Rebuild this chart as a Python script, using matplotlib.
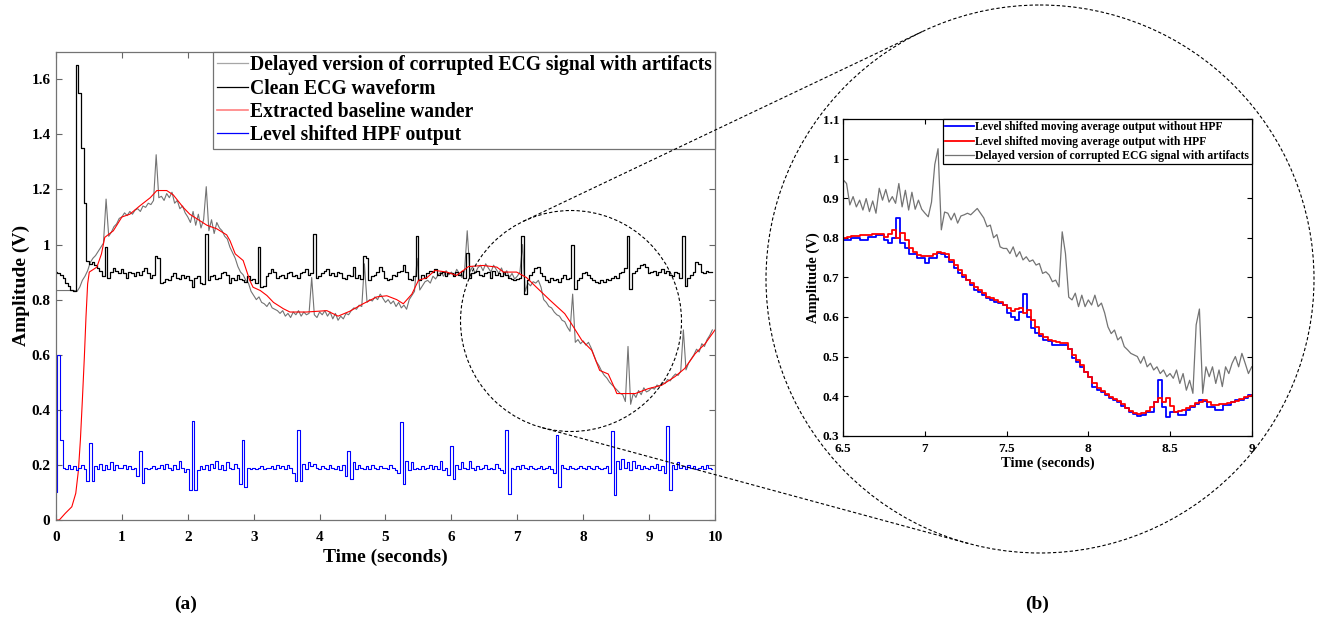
import numpy as np
import matplotlib
matplotlib.use('Agg')
import matplotlib.pyplot as plt
from matplotlib.ticker import FuncFormatter
from matplotlib.patches import Circle
from matplotlib.lines import Line2D

plt.rcParams['font.family'] = ['Liberation Serif', 'DejaVu Serif']
plt.rcParams['font.weight'] = 'bold'
plt.rcParams['mathtext.default'] = 'bf'

# ---------------- Panel (a): samples every 0.04 s, 0 .. 9.96 s ----------------
DT_A = 0.04
grey_a = [
    0.833,0.833,0.833,0.833,0.833,0.833,0.833,0.833,0.830,0.845,0.870,0.885,0.905,0.935,0.950,0.960,0.975,0.990,1.005,1.165,1.030,1.045,1.065,1.075,1.095,
    1.100,1.115,1.105,1.120,1.110,1.125,1.130,1.120,1.140,1.135,1.150,1.145,1.160,1.326,1.170,1.175,1.160,1.185,1.170,1.190,1.150,1.160,1.130,1.140,1.115,
    1.100,1.080,1.120,1.070,1.110,1.060,1.090,1.210,1.050,1.090,1.040,1.080,1.060,1.050,1.030,1.020,0.990,0.970,0.950,0.920,0.900,0.890,0.870,0.860,0.830,
    0.815,0.800,0.810,0.790,0.785,0.775,0.790,0.770,0.765,0.760,0.750,0.760,0.740,0.750,0.735,0.755,0.745,0.760,0.740,0.755,0.745,0.750,0.880,0.745,0.735,
    0.755,0.745,0.760,0.740,0.755,0.730,0.750,0.725,0.740,0.730,0.750,0.745,0.760,0.770,0.765,0.780,0.775,0.930,0.790,0.800,0.795,0.810,0.800,0.820,0.805,
    0.790,0.800,0.785,0.795,0.775,0.790,0.770,0.780,0.765,0.800,0.815,0.830,0.950,0.835,0.850,0.865,0.870,0.860,0.885,0.875,0.890,0.900,0.885,0.905,0.890,
    0.900,0.885,0.910,0.895,0.880,0.905,1.050,0.900,0.920,0.895,0.915,0.925,0.905,0.930,0.915,0.900,0.925,0.910,0.895,0.915,0.890,0.905,0.880,0.895,0.875,
    0.885,0.900,1.000,0.830,0.860,0.850,0.865,0.860,0.870,0.845,0.800,0.790,0.775,0.770,0.755,0.745,0.740,0.725,0.720,0.700,0.685,0.820,0.645,0.655,0.640,
    0.650,0.635,0.645,0.625,0.600,0.575,0.560,0.540,0.525,0.515,0.500,0.490,0.480,0.470,0.460,0.455,0.430,0.630,0.420,0.460,0.445,0.470,0.455,0.480,0.465,
    0.470,0.480,0.475,0.490,0.485,0.500,0.495,0.510,0.505,0.520,0.530,0.525,0.540,0.690,0.545,0.570,0.585,0.600,0.620,0.610,0.640,0.630,0.655,0.670,0.690,
]
black_a = [
    0.900,0.898,0.890,0.878,0.862,0.848,0.835,0.830,1.650,1.550,1.350,1.150,0.940,0.930,0.935,0.925,0.915,0.905,0.885,0.990,0.880,0.900,0.915,0.905,0.895,
    0.910,0.895,0.880,0.900,0.895,0.885,0.900,0.890,0.905,0.915,0.895,0.880,0.890,0.960,0.950,0.860,0.865,0.875,0.870,0.885,0.895,0.880,0.875,0.890,0.880,
    0.885,0.870,0.845,0.880,0.885,0.860,0.855,1.040,0.870,0.885,0.890,0.875,0.880,0.895,0.900,0.890,0.860,0.880,0.870,0.890,0.875,0.870,0.865,0.885,0.870,
    0.875,0.860,0.990,0.845,0.850,0.885,0.895,0.910,0.900,0.880,0.885,0.890,0.880,0.895,0.900,0.885,0.890,0.880,0.895,0.900,0.910,0.890,0.895,1.040,0.880,
    0.885,0.895,0.905,0.910,0.890,0.895,0.885,0.900,0.895,0.880,0.875,0.890,0.885,0.920,0.880,0.890,0.875,0.960,0.950,0.870,0.885,0.890,0.900,0.920,0.905,
    0.880,0.870,0.875,0.890,0.885,0.900,0.905,0.925,0.900,0.875,0.870,0.885,1.030,0.870,0.890,0.880,0.895,0.905,0.900,0.910,0.890,0.895,0.900,0.885,0.895,
    0.895,0.885,0.900,0.890,0.905,0.880,0.970,0.880,0.895,0.900,0.905,0.890,0.885,0.895,0.900,0.880,0.905,0.890,0.895,0.885,0.900,0.890,0.880,0.875,0.870,
    0.875,0.880,1.030,0.820,0.870,0.890,0.900,0.915,0.920,0.895,0.885,0.870,0.865,0.880,0.870,0.875,0.865,0.880,0.890,0.875,0.880,1.000,0.840,0.870,0.880,
    0.895,0.900,0.890,0.880,0.870,0.865,0.860,0.870,0.865,0.875,0.870,0.880,0.885,0.880,0.895,0.900,0.915,1.030,0.840,0.895,0.905,0.915,0.925,0.930,0.920,
    0.895,0.900,0.905,0.890,0.900,0.910,0.895,0.905,0.890,0.885,0.900,0.895,0.880,1.030,0.850,0.880,0.890,0.900,0.935,0.930,0.900,0.895,0.905,0.900,0.900,
]
blue_a = [
    0.100,0.600,0.290,0.190,0.185,0.200,0.185,0.195,0.180,0.190,0.200,0.185,0.140,0.280,0.140,0.195,0.185,0.205,0.180,0.200,0.185,0.210,0.180,0.200,0.190,
    0.190,0.200,0.185,0.195,0.185,0.190,0.160,0.250,0.135,0.190,0.185,0.190,0.195,0.185,0.190,0.200,0.185,0.205,0.190,0.180,0.200,0.185,0.215,0.190,0.175,
    0.185,0.110,0.360,0.110,0.180,0.195,0.185,0.200,0.180,0.205,0.190,0.215,0.185,0.200,0.180,0.210,0.190,0.185,0.205,0.190,0.130,0.290,0.120,0.190,0.185,
    0.190,0.185,0.190,0.195,0.185,0.190,0.190,0.195,0.185,0.200,0.190,0.195,0.185,0.200,0.190,0.170,0.140,0.325,0.140,0.205,0.185,0.210,0.195,0.205,0.190,
    0.185,0.195,0.190,0.185,0.200,0.190,0.185,0.195,0.180,0.200,0.160,0.250,0.150,0.210,0.185,0.200,0.190,0.185,0.195,0.185,0.200,0.190,0.185,0.195,0.190,
    0.190,0.185,0.200,0.190,0.180,0.170,0.355,0.130,0.215,0.180,0.210,0.185,0.190,0.185,0.195,0.185,0.190,0.200,0.185,0.195,0.185,0.215,0.180,0.190,0.165,
    0.270,0.150,0.200,0.185,0.210,0.190,0.185,0.215,0.190,0.180,0.195,0.185,0.190,0.200,0.185,0.190,0.185,0.205,0.190,0.180,0.170,0.326,0.094,0.190,0.185,
    0.195,0.185,0.200,0.190,0.185,0.195,0.190,0.185,0.190,0.195,0.185,0.190,0.195,0.185,0.170,0.310,0.120,0.200,0.190,0.185,0.195,0.190,0.185,0.190,0.195,
    0.190,0.185,0.195,0.190,0.185,0.195,0.190,0.185,0.190,0.195,0.170,0.324,0.090,0.215,0.185,0.220,0.190,0.210,0.180,0.215,0.190,0.200,0.185,0.195,0.190,
    0.185,0.195,0.190,0.205,0.180,0.195,0.170,0.340,0.109,0.200,0.185,0.210,0.190,0.195,0.185,0.200,0.190,0.195,0.185,0.190,0.195,0.185,0.200,0.190,0.185,
]
# extracted baseline wander: points (time s, volts)
red_t = [0.0,0.05,0.14,0.24,0.30,0.34,0.37,0.40,0.43,0.455,0.48,0.505,0.62,0.69,0.74,0.87,1.0,1.12,1.27,1.43,
         1.53,1.68,1.78,1.93,2.03,2.18,2.29,2.44,2.59,2.64,2.72,2.84,2.94,2.99,3.10,3.20,3.30,3.45,3.55,3.80,
         4.11,4.28,4.46,4.66,4.87,5.02,5.17,5.27,5.40,5.50,5.63,5.75,5.93,6.08,6.26,6.48,6.69,6.79,6.99,7.14,
         7.29,7.50,7.72,7.82,7.98,8.13,8.25,8.38,8.48,8.51,8.79,8.99,9.19,9.39,9.54,9.70,9.85,10.0]
red_v = [0.0,0.0,0.024,0.048,0.097,0.18,0.29,0.435,0.59,0.737,0.857,0.90,0.918,0.966,1.026,1.05,1.10,1.11,1.14,1.17,
         1.196,1.196,1.18,1.135,1.11,1.087,1.07,1.057,1.035,1.014,0.966,0.942,0.87,0.845,0.833,0.815,0.79,0.767,0.755,0.755,
         0.76,0.74,0.758,0.785,0.81,0.814,0.80,0.785,0.82,0.87,0.88,0.906,0.90,0.888,0.92,0.924,0.918,0.90,0.90,0.88,
         0.845,0.797,0.749,0.713,0.652,0.616,0.543,0.53,0.477,0.459,0.459,0.477,0.489,0.52,0.55,0.604,0.64,0.69]

# ---------------- Panel (b): 6.5 .. 9 s ----------------
T0_B = 6.5
DT_B = 0.025          # step width of moving-average outputs
blue_b = [
    0.794,0.794,0.800,0.800,0.795,0.795,0.803,0.803,0.807,0.807,
    0.794,0.786,0.799,0.851,0.786,0.773,0.760,0.760,0.748,0.748,
    0.735,0.748,0.748,0.762,0.760,0.752,0.740,0.723,0.710,0.702,
    0.693,0.680,0.668,0.662,0.655,0.648,0.644,0.638,0.634,0.630,
    0.609,0.600,0.592,0.613,0.657,0.600,0.571,0.560,0.552,0.543,
    0.540,0.530,0.530,0.530,0.530,0.520,0.496,0.485,0.474,0.462,
    0.449,0.424,0.415,0.410,0.403,0.394,0.390,0.386,0.375,0.370,
    0.361,0.355,0.350,0.352,0.360,0.361,0.386,0.441,0.373,0.348,
    0.361,0.361,0.352,0.352,0.364,0.373,0.380,0.391,0.388,0.373,
    0.373,0.366,0.366,0.377,0.377,0.386,0.390,0.390,0.395,0.403,
    0.403]
red_b = [
    0.800,0.803,0.805,0.805,0.806,0.806,0.808,0.810,0.809,0.810,
    0.803,0.809,0.820,0.800,0.813,0.794,0.773,0.765,0.757,0.755,
    0.755,0.755,0.758,0.765,0.762,0.758,0.744,0.731,0.718,0.706,
    0.693,0.685,0.675,0.668,0.660,0.651,0.647,0.644,0.638,0.630,
    0.622,0.615,0.619,0.622,0.609,0.617,0.592,0.575,0.558,0.550,
    0.543,0.540,0.536,0.535,0.533,0.520,0.505,0.492,0.478,0.462,
    0.448,0.432,0.420,0.412,0.405,0.399,0.393,0.388,0.380,0.370,
    0.362,0.358,0.356,0.358,0.362,0.372,0.385,0.396,0.386,0.396,
    0.375,0.361,0.363,0.366,0.370,0.375,0.382,0.386,0.389,0.386,
    0.378,0.377,0.379,0.380,0.382,0.384,0.388,0.392,0.397,0.400,
    0.403]
DT_GB = 0.02
grey_b = [
    0.946,0.937,0.883,0.904,0.878,0.895,0.870,0.899,0.866,0.893,
    0.862,0.925,0.895,0.922,0.890,0.904,0.887,0.937,0.878,0.920,
    0.870,0.915,0.872,0.895,0.872,0.862,0.853,0.890,0.985,1.025,
    0.820,0.865,0.862,0.845,0.862,0.837,0.855,0.858,0.862,0.858,
    0.866,0.874,0.862,0.850,0.828,0.832,0.800,0.808,0.777,0.773,
    0.773,0.760,0.777,0.752,0.765,0.744,0.752,0.740,0.744,0.731,
    0.735,0.710,0.714,0.706,0.689,0.693,0.676,0.815,0.760,0.650,
    0.643,0.660,0.626,0.655,0.626,0.643,0.630,0.655,0.626,0.635,
    0.610,0.575,0.558,0.567,0.542,0.550,0.525,0.517,0.508,0.504,
    0.500,0.483,0.500,0.474,0.483,0.466,0.474,0.457,0.466,0.449,
    0.457,0.445,0.466,0.432,0.457,0.415,0.440,0.407,0.580,0.620,
    0.407,0.474,0.449,0.474,0.432,0.466,0.424,0.474,0.457,0.483,
    0.500,0.474,0.508,0.483,0.457,0.474]

labels_a = ['Delayed version of corrupted ECG signal with artifacts', 'Clean ECG waveform',
            'Extracted baseline wander', 'Level shifted HPF output']
labels_b = ['Level shifted moving average output without HPF',
            'Level shifted moving average output with HPF',
            'Delayed version of corrupted ECG signal with artifacts']

W, H = 1322, 619
fig = plt.figure(figsize=(W / 100, H / 100), dpi=100)
fmt = FuncFormatter(lambda v, p: f'{v:g}')

# ---------- panel (a) ----------
axA = fig.add_axes([56 / W, 1 - 520 / H, 659 / W, (520 - 51.7) / H])
tA = np.arange(len(grey_a)) * DT_A
axA.plot(tA, grey_a, color='0.45', lw=0.8)
axA.plot(tA, black_a, color='black', lw=0.9, drawstyle='steps-mid')
axA.plot(red_t, red_v, color='red', lw=0.8)
axA.plot(tA, blue_a, color='blue', lw=0.8, drawstyle='steps-mid')
axA.set_xlim(0, 10)
axA.set_ylim(0, 1.7)
axA.set_xticks(np.arange(0, 11, 1))
axA.set_yticks(np.arange(0, 1.61, 0.2))
axA.xaxis.set_major_formatter(fmt)
axA.yaxis.set_major_formatter(fmt)
axA.tick_params(direction='in', top=True, right=True, length=4, width=0.8,
                color='0.4', labelsize=11, pad=4)
axA.tick_params(axis='x', pad=8)
for s in axA.spines.values():
    s.set_color('0.45')
    s.set_linewidth(0.9)
axA.set_xlabel('Time (seconds)', fontsize=14, fontweight='bold', labelpad=3)
axA.set_ylabel('Amplitude (V)', fontsize=14, fontweight='bold', labelpad=1)
hA = [Line2D([], [], color='0.65', lw=0.9), Line2D([], [], color='black', lw=0.9),
      Line2D([], [], color='#ff8080', lw=1.2), Line2D([], [], color='blue', lw=0.9)]
legA = axA.legend(hA, labels_a, loc='upper right', bbox_to_anchor=(1, 1), borderaxespad=0,
                  fancybox=False, edgecolor='0.45', framealpha=1,
                  prop={'size': 14.1, 'weight': 'bold'}, handlelength=1.6,
                  handletextpad=0.08, borderpad=0.18, labelspacing=0.17)
legA.get_frame().set_linewidth(0.9)

# ---------- panel (b) ----------
axB = fig.add_axes([843.3 / W, 1 - 435.7 / H, 408.4 / W, (435.7 - 119) / H])
tB = T0_B + np.arange(len(blue_b)) * DT_B
tGB = T0_B + np.arange(len(grey_b)) * DT_GB
axB.plot(tB, blue_b, color='blue', lw=1.3, drawstyle='steps-post')
axB.plot(tB, red_b, color='red', lw=1.3, drawstyle='steps-post')
axB.plot(tGB, grey_b, color='0.45', lw=0.9)
axB.set_xlim(6.5, 9)
axB.set_ylim(0.3, 1.1)
axB.set_xticks(np.arange(6.5, 9.01, 0.5))
axB.set_yticks(np.arange(0.3, 1.101, 0.1))
axB.xaxis.set_major_formatter(fmt)
axB.yaxis.set_major_formatter(FuncFormatter(lambda v, p: f'{round(v, 2):g}'))
axB.tick_params(direction='in', top=True, right=True, length=3.5, width=0.8,
                labelsize=9.5, pad=3)
axB.tick_params(axis='x', pad=5)
for s in axB.spines.values():
    s.set_color('black')
    s.set_linewidth(0.9)
axB.set_xlabel('Time (seconds)', fontsize=10.5, fontweight='bold', labelpad=1)
axB.set_ylabel('Amplitude (V)', fontsize=10.5, fontweight='bold', labelpad=2)
hB = [Line2D([], [], color='blue', lw=1.3), Line2D([], [], color='red', lw=1.3),
      Line2D([], [], color='0.45', lw=0.9)]
legB = axB.legend(hB, labels_b, loc='upper right', bbox_to_anchor=(1, 1), borderaxespad=0,
                  fancybox=False, edgecolor='black', framealpha=1,
                  prop={'size': 8.4, 'weight': 'bold'}, handlelength=2.5,
                  handletextpad=0.12, borderpad=0.2, labelspacing=0.2)
legB.get_frame().set_linewidth(0.9)

# ---------- zoom decoration (figure pixel coordinates) ----------
ov = fig.add_axes([0, 0, 1, 1])
ov.set_xlim(0, W)
ov.set_ylim(H, 0)
ov.axis('off')
ov.patch.set_alpha(0)
c1, r1 = np.array([571.0, 321.0]), 110.5
c2, r2 = np.array([1040.0, 279.0]), 274.0
dash = (0, (3.0, 2.0))
for c, r in ((c1, r1), (c2, r2)):
    ov.add_patch(Circle(tuple(c), r, fill=False, ec='black', lw=0.8, ls=dash))
d = c2 - c1
L = np.hypot(*d)
phi = np.arctan2(d[1], d[0])
alpha = np.arccos((r1 - r2) / L)
for sgn in (1, -1):
    n = np.array([np.cos(phi + sgn * alpha), np.sin(phi + sgn * alpha)])
    p1, p2 = c1 + r1 * n, c2 + r2 * n
    ov.plot([p1[0], p2[0]], [p1[1], p2[1]], color='black', lw=0.8, ls=dash)

fig.text(186 / W, 1 - 604 / H, '(a)', fontsize=14, fontweight='bold', ha='center', va='center')
fig.text(1037 / W, 1 - 604 / H, '(b)', fontsize=14, fontweight='bold', ha='center', va='center')

fig.savefig('out.png', dpi=100)
